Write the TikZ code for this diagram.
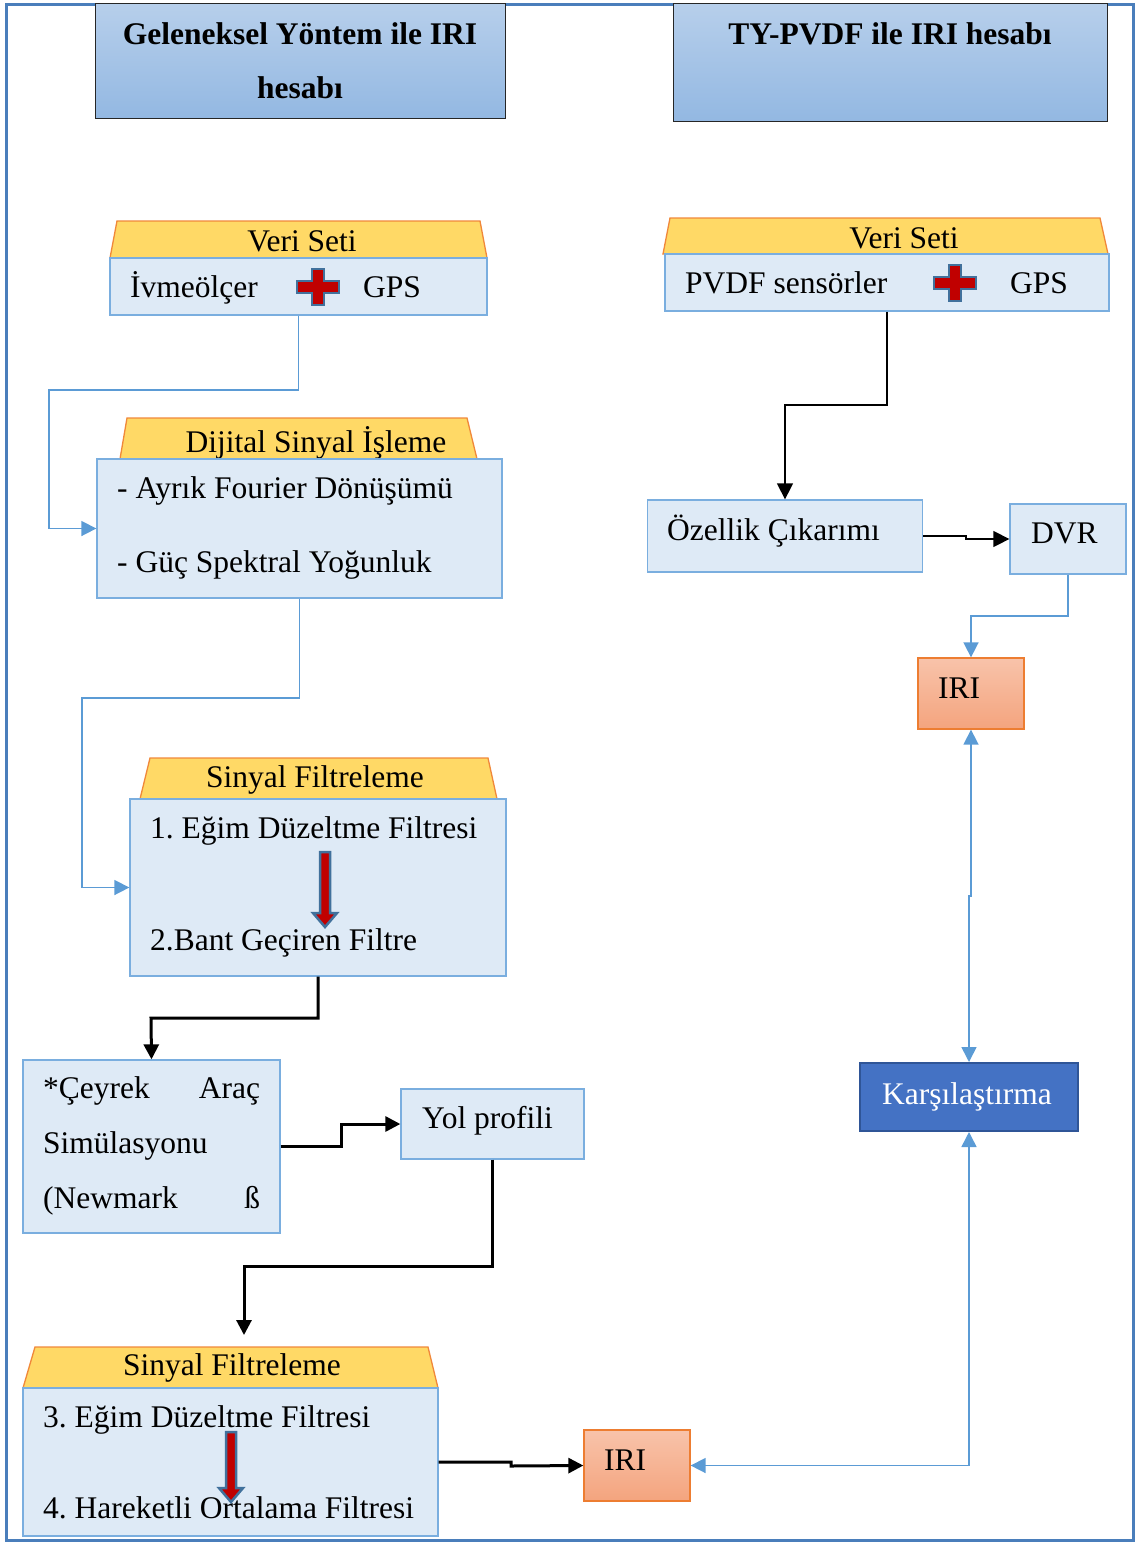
\documentclass[tikz,border=0pt]{standalone}
\usepackage{fontspec}
\setmainfont{Liberation Serif}
\usetikzlibrary{arrows.meta}
\frenchspacing

\definecolor{frameblue}{HTML}{4A7EBB}
\definecolor{hdrtop}{HTML}{B7CFEB}
\definecolor{hdrbot}{HTML}{93B8E2}
\definecolor{boxfill}{HTML}{DEEAF6}
\definecolor{boxline}{HTML}{7AAEDF}
\definecolor{trapfill}{HTML}{FFD966}
\definecolor{trapline}{HTML}{F0883A}
\definecolor{linkblue}{HTML}{5B9BD5}
\definecolor{iritop}{HTML}{F8C3AA}
\definecolor{iribot}{HTML}{F4A47E}
\definecolor{iriline}{HTML}{ED7D31}
\definecolor{karsifill}{HTML}{4472C4}
\definecolor{karsiline}{HTML}{2F5597}
\definecolor{crossred}{HTML}{C00000}
\definecolor{crossline}{HTML}{41719C}

\tikzset{
  hdrbox/.style={draw=black!85, line width=1pt, top color=hdrtop, bottom color=hdrbot, inner sep=0},
  bodybox/.style={draw=boxline, fill=boxfill, line width=1.3pt, inner sep=0},
  trapbox/.style={draw=trapline, fill=trapfill, line width=1.3pt},
  iribox/.style={draw=iriline, line width=1.3pt, top color=iritop, bottom color=iribot, inner sep=0},
  txt/.style={anchor=base west, inner sep=0},
  ctxt/.style={anchor=base, inner sep=0},
  bluelink/.style={draw=linkblue, line width=1.6pt, -{Triangle[length=15pt,width=15pt]}},
  bothblue/.style={draw=linkblue, line width=1.6pt, {Triangle[length=15pt,width=15pt]}-{Triangle[length=15pt,width=15pt]}},
  blacklink/.style={line width=3pt, -{Triangle[length=15pt,width=15pt]}},
  thinlink/.style={line width=1.4pt, -{Triangle[length=16pt,width=16pt]}}
}

% red cross between the two sources
\newcommand{\redcross}[2]{%
  \draw[fill=crossred, draw=crossline, line width=2.5pt]
    (#1-21,#2-6) -- (#1-6,#2-6) -- (#1-6,#2-18) -- (#1+6,#2-18) -- (#1+6,#2-6)
    -- (#1+21,#2-6) -- (#1+21,#2+6) -- (#1+6,#2+6) -- (#1+6,#2+18)
    -- (#1-6,#2+18) -- (#1-6,#2+6) -- (#1-21,#2+6) -- cycle;}
% red arrow between two filter steps
\newcommand{\filtarrow}[3]{%
  \draw[fill=crossred, draw=crossline, line width=2.5pt]
    (#1-5,#2) -- (#1+5,#2) -- (#1+5,#3-14) -- (#1+12,#3-14) -- (#1,#3)
    -- (#1-12,#3-14) -- (#1-5,#3-14) -- cycle;}

\begin{document}
\begin{tikzpicture}[x=1pt, y=-1pt, font=\fontsize{31.5}{38}\selectfont]
    \useasboundingbox (0,0) rectangle (1136,1543);
    \draw[frameblue, line width=3pt] (6,4) rectangle (1133,1540);

    % headers
    \node[hdrbox, minimum width=410, minimum height=115] (hdrL) at (300,60.5) {};
    \node[ctxt, font=\fontsize{31.5}{38}\selectfont\bfseries] (hdrL1) at (300,44) {Geleneksel Yöntem ile IRI};
    \node[ctxt, font=\fontsize{31.5}{38}\selectfont\bfseries] (hdrL2) at (300,98) {hesabı};
    \node[hdrbox, minimum width=434, minimum height=118] (hdrR) at (890,62) {};
    \node[ctxt, font=\fontsize{31.5}{38}\selectfont\bfseries] (hdrR1) at (890,44) {TY-PVDF ile IRI hesabı};

    % left column
    \draw[trapbox] (117,221) -- (480,221) -- (487,258) -- (110,258) -- cycle;
    \node[ctxt] (veriLt) at (302,251) {Veri Seti};
    \node[bodybox, minimum width=377, minimum height=57] (veriLb) at (298.5,286.5) {};
    \node[txt] (ivme) at (130,297) {İvmeölçer};
    \node[txt] (gpsL) at (363,297) {GPS};
    \redcross{318}{287}

    \draw[trapbox] (127,418) -- (467,418) -- (477,459) -- (120,459) -- cycle;
    \node[ctxt] (dspt) at (316,452) {Dijital Sinyal İşleme};
    \node[bodybox, minimum width=405, minimum height=139] (dspb) at (299.5,528.5) {};
    \node[txt] (dft) at (117,498) {- Ayrık Fourier Dönüşümü};
    \node[txt] (psd) at (117,572) {- Güç Spektral Yoğunluk};

    \draw[trapbox] (150,758) -- (488,758) -- (497,799) -- (140,799) -- cycle;
    \node[ctxt] (filt1t) at (315,787) {Sinyal Filtreleme};
    \node[bodybox, minimum width=376, minimum height=177] (filt1b) at (318,887.5) {};
    \node[txt] (egim1) at (150,838) {1. Eğim Düzeltme Filtresi};
    \node[txt] (bant) at (150,950) {2.Bant Geçiren Filtre};
    \filtarrow{325}{852}{927}

    \node[bodybox, minimum width=257, minimum height=173] (ceyrek) at (151.5,1146.5) {};
    \node[txt] (ceyrek1) at (43,1098) {\makebox[217pt][l]{*Çeyrek\hfill Araç}};
    \node[txt] (ceyrek2) at (43,1153) {Simülasyonu};
    \node[txt] (ceyrek3) at (43,1208) {\makebox[217pt][l]{(Newmark\hfill ß}};

    \node[bodybox, minimum width=183, minimum height=70] (yol) at (492.5,1124) {};
    \node[txt] (yolt) at (422,1128) {Yol profili};

    \draw[trapbox] (35,1347) -- (428,1347) -- (438,1388) -- (23,1388) -- cycle;
    \node[ctxt] (filt2t) at (232,1375) {Sinyal Filtreleme};
    \node[bodybox, minimum width=415, minimum height=148] (filt2b) at (230.5,1462) {};
    \node[txt] (egim3) at (43,1427) {3. Eğim Düzeltme Filtresi};
    \node[txt] (hof) at (43,1518) {4. Hareketli Ortalama Filtresi};
    \filtarrow{231}{1432}{1502}

    \node[iribox, minimum width=106, minimum height=71] (iriL) at (637,1465.5) {};
    \node[txt] (iriLt) at (604,1470) {IRI};

    % right column
    \draw[trapbox] (670,218) -- (1100,218) -- (1108,254) -- (663,254) -- cycle;
    \node[ctxt] (veriRt) at (904,248) {Veri Seti};
    \node[bodybox, minimum width=444, minimum height=57] (veriRb) at (887,282.5) {};
    \node[txt] (pvdf) at (685,293) {PVDF sensörler};
    \node[txt] (gpsR) at (1010,293) {GPS};
    \redcross{955}{283}

    \node[bodybox, minimum width=275, minimum height=72] (ozel) at (785,536) {};
    \node[txt] (ozelt) at (667,540) {Özellik Çıkarımı};
    \node[bodybox, minimum width=116, minimum height=70] (dvr) at (1068,539) {};
    \node[txt] (dvrt) at (1031,543) {DVR};
    \node[iribox, minimum width=106, minimum height=71] (iriR) at (971,693.5) {};
    \node[txt] (iriRt) at (938,698) {IRI};
    \node[draw=karsiline, fill=karsifill, line width=2pt, minimum width=218, minimum height=68, inner sep=0] (karsi) at (969,1097) {};
    \node[ctxt, text=white] (karsit) at (967,1104) {Karşılaştırma};

    % connectors
    \coordinate (f2in) at (244,1335);
    \draw[bluelink] (veriLb.south) |- (49,390) |- (dspb.west);
    \draw[bluelink] (dspb.south) |- (82,698) |- (filt1b.west);
    \draw[blacklink] (filt1b.south) |- (151,1018) -- (ceyrek.north);
    \draw[blacklink] (ceyrek.east) -| (341,1124) -- (yol.west);
    \draw[blacklink] (yol.south) |- (244,1266) -- (f2in);
    \draw[blacklink] (filt2b.east) -| (511,1466) -- (iriL.west);
    \draw[thinlink] (veriRb.south) |- (785,405) -- (ozel.north);
    \draw[thinlink] (ozel.east) -| (966,539) -- (dvr.west);
    \draw[bluelink] (dvr.south) |- (971,616) -- (iriR.north);
    \draw[bothblue] (iriR.south) -- (971,896) -- (969,896) -- (karsi.north);
    \draw[bothblue] (iriL.east) -| (karsi.south);
\end{tikzpicture}
\end{document}
